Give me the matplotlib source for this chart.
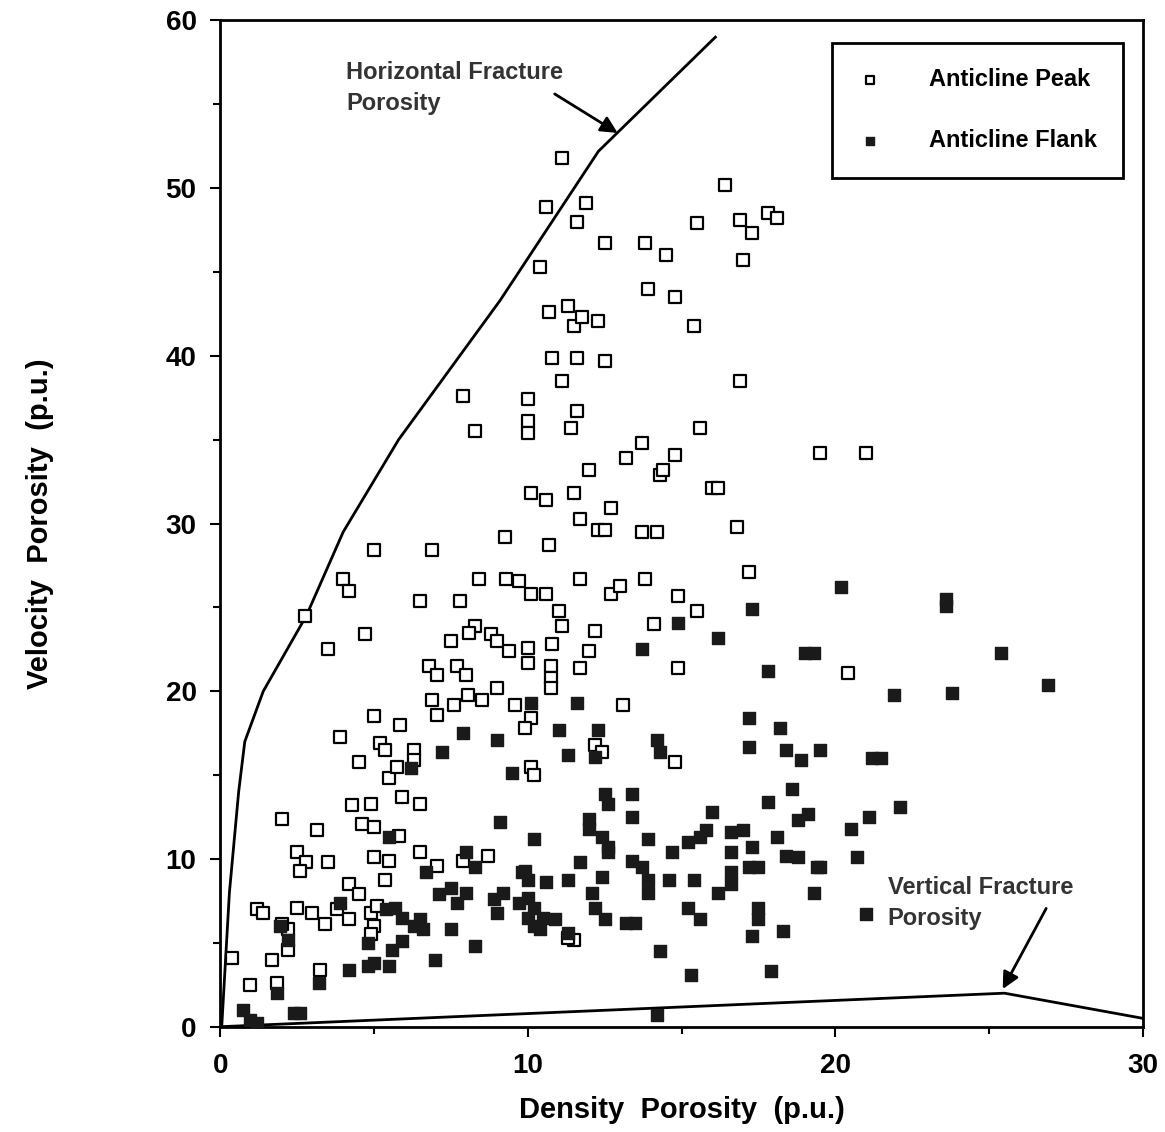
import matplotlib
matplotlib.use("Agg")
import matplotlib.pyplot as plt
from matplotlib.ticker import MultipleLocator

plt.rcParams['font.family'] = ['Liberation Sans', 'DejaVu Sans']

# Anticline Peak (hollow squares)
peak_x = [11.1, 10.6, 11.9, 11.6, 12.5, 13.8, 14.5, 16.4, 15.5, 16.9, 17.3, 17.8, 18.1, 17.0,
          10.4, 13.9, 14.8, 10.7, 11.3, 11.5, 11.75, 12.3, 15.4, 10.8, 11.6, 12.5, 11.1, 16.9,
          7.9, 10.0, 11.6, 8.3, 10.0, 10.0, 11.4, 15.6, 13.7, 13.2, 14.3, 14.4, 14.8, 19.5,
          21.0, 12.0, 10.1, 10.6, 11.5, 12.7, 11.7, 12.3, 12.5, 16.0, 16.2, 16.8, 13.7, 14.2,
          9.25, 10.7, 5.0, 6.9,
          2.76, 4.0, 4.2, 3.5, 4.7, 6.5, 7.8, 7.5, 8.4, 8.3, 8.1, 9.3, 9.7, 10.1, 10.6, 8.8,
          9.0, 9.4, 10.0, 10.8, 10.0, 10.75, 10.75, 10.75, 11.0, 11.1, 11.7, 12.7, 13.0, 13.8,
          14.1, 14.9, 15.5, 12.2, 12.0, 11.7, 14.9, 17.2, 6.8, 7.05, 7.7, 8.0, 6.9, 7.05, 7.6,
          8.05, 8.5, 9.0, 9.6, 10.1, 9.9, 13.1, 20.4, 12.2, 12.4, 14.8, 10.1, 10.2, 11.5, 11.3,
          3.9, 5.0, 5.2, 5.85, 4.5, 5.35, 5.5, 5.75, 6.3, 6.3, 5.9, 6.5, 4.3, 4.9, 4.6, 5.0,
          5.8, 2.0, 3.15, 2.5, 2.8, 3.5, 2.6, 5.0, 5.5, 5.35, 6.5, 7.05, 7.9, 8.7, 4.2, 4.5,
          1.2, 2.5, 3.0, 3.8, 3.4, 4.2, 4.9, 5.0, 5.1, 4.9, 2.2, 2.2, 1.7, 0.4, 0.97, 1.85,
          3.25, 2.0, 1.4]
peak_y = [51.8, 48.9, 49.1, 48.0, 46.7, 46.7, 46.0, 50.2, 47.9, 48.1, 47.3, 48.5, 48.2, 45.7,
          45.3, 44.0, 43.5, 42.6, 43.0, 41.8, 42.3, 42.1, 41.8, 39.9, 39.9, 39.7, 38.5, 38.5,
          37.6, 37.4, 36.7, 35.5, 36.1, 35.4, 35.7, 35.7, 34.8, 33.9, 32.9, 33.2, 34.1, 34.2,
          34.2, 33.2, 31.8, 31.4, 31.8, 30.9, 30.3, 29.6, 29.6, 32.1, 32.1, 29.8, 29.5, 29.5,
          29.2, 28.7, 28.4, 28.4,
          24.5, 26.7, 26.0, 22.5, 23.4, 25.4, 25.4, 23.0, 26.7, 23.9, 23.5, 26.7, 26.6, 25.8, 25.8, 23.4,
          23.0, 22.4, 22.6, 22.8, 21.7, 21.5, 20.8, 20.2, 24.8, 23.9, 26.7, 25.8, 26.3, 26.7,
          24.0, 25.7, 24.8, 23.6, 22.4, 21.4, 21.4, 27.1, 21.5, 21.0, 21.5, 21.0, 19.5, 18.6, 19.2,
          19.8, 19.5, 20.2, 19.2, 18.4, 17.8, 19.2, 21.1, 16.8, 16.4, 15.8, 15.5, 15.0, 5.2, 5.3,
          17.3, 18.5, 16.9, 18.0, 15.8, 16.5, 14.8, 15.5, 16.5, 15.9, 13.7, 13.3, 13.2, 13.3, 12.1, 11.9,
          11.4, 12.4, 11.7, 10.4, 9.8, 9.8, 9.3, 10.1, 9.9, 8.75, 10.4, 9.6, 9.9, 10.2, 8.5, 7.9,
          7.0, 7.1, 6.8, 7.0, 6.1, 6.4, 6.8, 6.0, 7.2, 5.5, 5.8, 4.6, 4.0, 4.1, 2.5, 2.6,
          3.4, 6.1, 6.8]

# Anticline Flank (filled squares)
flank_x = [20.2, 23.6, 23.6, 25.4, 26.9, 21.9, 23.8, 17.3, 14.9, 16.2, 13.7, 19.0, 19.3, 17.8,
           19.5, 21.2, 21.5, 22.1, 21.1, 20.5, 20.7, 21.0, 19.5,
           11.6, 10.1, 11.0, 12.3, 11.3, 12.2, 14.2, 14.3, 17.2, 17.2, 18.2, 18.4, 18.9, 12.5,
           12.6, 13.4, 13.4, 12.0, 12.0, 13.9, 16.0, 17.8, 18.6, 19.1, 18.8, 18.1, 10.2, 12.4,
           12.6, 12.6, 11.7, 13.4, 13.7, 13.9, 13.9, 14.7, 15.2, 15.6, 15.8, 16.6, 17.0, 17.3,
           17.5, 17.2, 16.6, 16.6, 16.6, 16.2, 18.4, 18.8, 19.4, 19.3, 15.4, 14.6, 15.2, 15.6,
           17.5, 17.5, 17.3, 18.3, 17.9, 15.3, 14.3, 14.2, 13.5, 13.2, 12.5, 12.2, 12.1, 12.4,
           11.3, 10.6, 10.0, 9.9, 10.0, 10.2, 10.5, 10.9, 10.4, 11.3,
           7.9, 7.2, 9.0, 9.5, 9.1, 8.0, 5.5, 6.2,
           6.7, 8.3, 9.8, 7.1, 7.5, 8.0, 7.7, 8.9, 9.2, 9.7, 10.0, 10.2, 9.0, 5.7, 5.4, 5.9,
           6.5, 6.6, 6.3, 7.5, 5.9, 5.6, 8.3, 7.0, 5.5, 5.0, 3.9, 4.8, 4.8, 4.2, 3.2, 1.85,
           0.97, 1.2, 2.4, 2.6, 0.75, 2.2, 1.95]
flank_y = [26.2, 25.5, 25.1, 22.3, 20.4, 19.8, 19.9, 24.9, 24.1, 23.2, 22.5, 22.3, 22.3, 21.2,
           16.5, 16.0, 16.0, 13.1, 12.5, 11.8, 10.1, 6.7, 9.5,
           19.3, 19.3, 17.7, 17.7, 16.2, 16.1, 17.1, 16.4, 18.4, 16.7, 17.8, 16.5, 15.9, 13.9,
           13.3, 13.9, 12.5, 12.4, 11.8, 11.2, 12.8, 13.4, 14.2, 12.7, 12.3, 11.3, 11.2, 11.3,
           10.7, 10.4, 9.8, 9.9, 9.5, 8.75, 8.0, 10.4, 11.0, 11.3, 11.7, 11.6, 11.7, 10.7,
           9.5, 9.5, 10.4, 9.2, 8.5, 8.0, 10.2, 10.1, 9.5, 8.0, 8.75, 8.75, 7.1, 6.4,
           7.1, 6.4, 5.4, 5.7, 3.3, 3.1, 4.5, 0.7, 6.2, 6.2, 6.4, 7.1, 8.0, 8.9,
           8.75, 8.6, 8.75, 9.3, 7.7, 7.1, 6.5, 6.4, 5.8, 5.6,
           17.5, 16.4, 17.1, 15.1, 12.2, 10.4, 11.3, 15.4,
           9.2, 9.5, 9.2, 7.9, 8.3, 8.0, 7.4, 7.6, 8.0, 7.4, 6.5, 6.0, 6.8, 7.1, 7.0, 6.5,
           6.4, 5.8, 6.0, 5.8, 5.1, 4.6, 4.8, 4.0, 3.6, 3.8, 7.4, 5.0, 3.6, 3.4, 2.6, 2.0,
           0.4, 0.2, 0.8, 0.8, 1.0, 5.2, 6.0]

# boundary lines
horiz_x = [0.05, 0.3, 0.6, 0.8, 1.4, 2.8, 4.0, 5.8, 9.1, 12.3, 16.1]
horiz_y = [0.0, 8.0, 14.0, 17.0, 20.0, 24.5, 29.5, 35.0, 43.3, 52.2, 59.0]
vert_x = [0.0, 25.5, 30.0]
vert_y = [0.0, 2.0, 0.5]

fig = plt.figure(figsize=(11.65, 11.32), dpi=100)
ax = fig.add_axes([0.189, 0.093, 0.792, 0.889])

ax.plot(horiz_x, horiz_y, color='black', lw=2)
ax.plot(vert_x, vert_y, color='black', lw=2)

ax.scatter(peak_x, peak_y, marker='s', s=85, facecolors='white', edgecolors='black',
           linewidths=1.6, label='Anticline Peak', zorder=3)
ax.scatter(flank_x, flank_y, marker='s', s=75, color='#1a1a1a', label='Anticline Flank', zorder=3)

ax.text(4.1, 57.6, 'Horizontal Fracture\nPorosity', fontsize=17, fontweight='bold',
        color='#333333', va='top', linespacing=1.45)
ax.annotate('', xy=(13.0, 53.2), xytext=(10.8, 55.7),
            arrowprops=dict(arrowstyle='-|>', color='black', lw=2, mutation_scale=25))
ax.text(21.7, 9.0, 'Vertical Fracture\nPorosity', fontsize=17, fontweight='bold',
        color='#333333', va='top', linespacing=1.45)
ax.annotate('', xy=(25.4, 2.1), xytext=(26.9, 7.2),
            arrowprops=dict(arrowstyle='-|>', color='black', lw=2, mutation_scale=25))

ax.set_xlim(0, 30)
ax.set_ylim(0, 60)
ax.xaxis.set_major_locator(MultipleLocator(10))
ax.xaxis.set_minor_locator(MultipleLocator(5))
ax.yaxis.set_major_locator(MultipleLocator(10))
ax.yaxis.set_minor_locator(MultipleLocator(5))
ax.tick_params(which='both', direction='out', width=1.5, labelsize=20)
ax.tick_params(which='major', length=7)
ax.tick_params(which='minor', length=5)
ax.tick_params(axis='x', pad=12)
ax.tick_params(axis='y', pad=10)
for lab in ax.get_xticklabels() + ax.get_yticklabels():
    lab.set_fontweight('bold')
for sp in ax.spines.values():
    sp.set_linewidth(2)

ax.set_xlabel('Density  Porosity  (p.u.)', fontsize=21, fontweight='bold', labelpad=12)
ax.set_ylabel('Velocity  Porosity  (p.u.)', fontsize=21, fontweight='bold', labelpad=80)

leg = ax.legend(loc='upper right', bbox_to_anchor=(0.978, 0.978), borderaxespad=0,
                fontsize=17, fancybox=False, edgecolor='black', framealpha=1,
                labelspacing=1.6, borderpad=1.1, handlelength=1.0, handletextpad=2.0,
                markerscale=0.6)
leg.get_frame().set_linewidth(2)
for t in leg.get_texts():
    t.set_fontweight('bold')

fig.savefig('out.png', dpi=100)
